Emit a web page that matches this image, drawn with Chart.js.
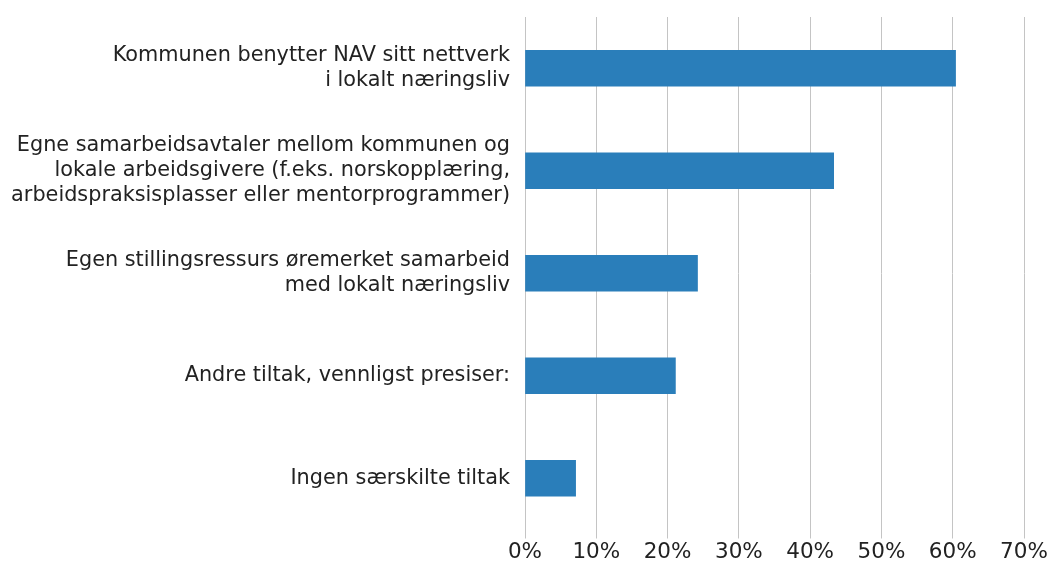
<!DOCTYPE html>
<html>
<head>
<meta charset="utf-8">
<script src="https://cdn.jsdelivr.net/npm/chart.js@4/dist/chart.umd.min.js"></script>
<style>
  html, body { margin: 0; padding: 0; background: #fff; }
  #wrap { position: relative; width: 1051px; height: 569px; }
</style>
</head>
<body>
<div id="wrap"><canvas id="c"></canvas></div>
<script>
const categories = [
  ["Kommunen benytter NAV sitt nettverk", "i lokalt næringsliv"],
  ["Egne samarbeidsavtaler mellom kommunen og", "lokale arbeidsgivere (f.eks. norskopplæring,", "arbeidspraksisplasser eller mentorprogrammer)"],
  ["Egen stillingsressurs øremerket samarbeid", "med lokalt næringsliv"],
  "Andre tiltak, vennligst presiser:",
  "Ingen særskilte tiltak"
];
const values = [60.4, 43.3, 24.2, 21.1, 7.1];
const xTicks = [0, 10, 20, 30, 40, 50, 60, 70];

new Chart(document.getElementById('c'), {
  type: 'bar',
  data: {
    labels: categories,
    datasets: [{
      data: values,
      backgroundColor: '#2A7EBA',
      borderWidth: 0,
      barThickness: 36
    }]
  },
  options: {
    indexAxis: 'y',
    responsive: true,
    maintainAspectRatio: false,
    animation: false,
    layout: { padding: { left: 0, right: 27, top: 17, bottom: 3 } },
    plugins: { legend: { display: false }, tooltip: { enabled: false } },
    scales: {
      x: {
        min: 0, max: 70,
        afterBuildTicks: (s) => { s.ticks = xTicks.map(v => ({ value: v })); },
        grid: { color: '#c4c4c4', lineWidth: 1, drawTicks: true, tickLength: 9 },
        border: { display: false },
        ticks: {
          padding: 3,
          color: '#222222',
          font: { family: 'DejaVu Sans', size: 21.5, lineHeight: 1 },
          callback: (v) => v + '%',
          maxRotation: 0
        }
      },
      y: {
        grid: { display: false, drawTicks: false },
        border: { display: false },
        afterFit: (s) => { s.width = 525; s.paddingTop = 0; s.paddingBottom = 0; },
        ticks: {
          padding: 15,
          color: '#222222',
          font: { family: 'DejaVu Sans', size: 20.8, lineHeight: 1.2 }
        }
      }
    }
  }
});
</script>
</body>
</html>
